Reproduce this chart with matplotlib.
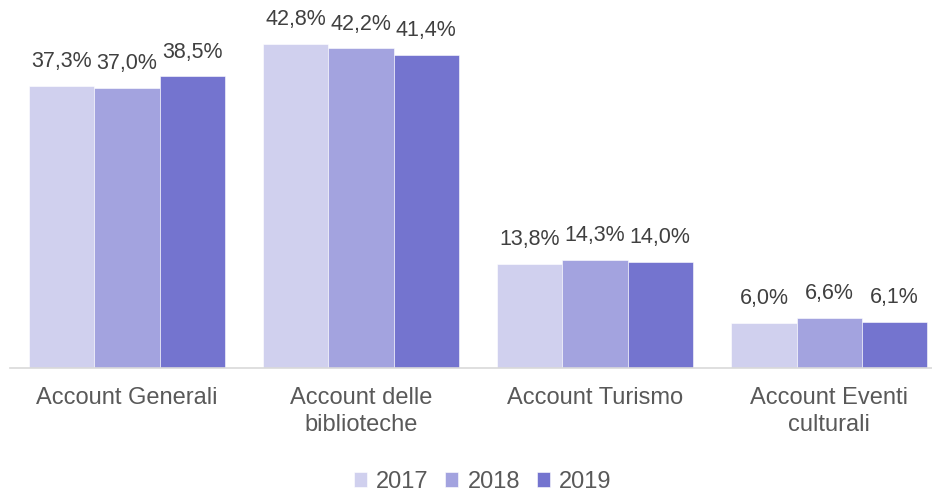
import numpy as np
import matplotlib
matplotlib.use('Agg')
import matplotlib.pyplot as plt

plt.rcParams['font.family'] = ['Liberation Sans', 'DejaVu Sans']

categories = ['Account Generali', 'Account delle\nbiblioteche', 'Account Turismo', 'Account Eventi\nculturali']
years = ['2017', '2018', '2019']
v2017 = [37.3, 42.8, 13.8, 6.0]
v2018 = [37.0, 42.2, 14.3, 6.6]
v2019 = [38.5, 41.4, 14.0, 6.1]
colors = ['#D0D0EE', '#A3A3DF', '#7474CF']

fig = plt.figure(figsize=(9.32, 4.92), dpi=100)
ax = fig.add_axes([10/932, (492-368)/492, 922/932, 368/492])

x = np.arange(len(categories))
w = 0.278
txt = '#404040'
txt2 = '#595959'
for i, (vals, lab) in enumerate(zip([v2017, v2018, v2019], years)):
    pos = x + (i - 1) * w
    ax.bar(pos, vals, width=w, color=colors[i], label=lab, edgecolor='white', linewidth=0.4)
    for px_, v in zip(pos, vals):
        ax.annotate('{:.1f}%'.format(v).replace('.', ','), (px_, v), xytext=(0, 10),
                    textcoords='offset points', ha='center', va='bottom',
                    fontsize=15.5, color=txt)

ax.set_xlim(-0.5, 3.44)
ax.set_ylim(0, 48.6)
ax.set_xticks(x)
ax.set_xticklabels(categories, fontsize=17, color=txt2, linespacing=1.25)
ax.tick_params(axis='x', length=0, pad=14)
ax.set_yticks([])
for s in ['top', 'right', 'left']:
    ax.spines[s].set_visible(False)
ax.spines['bottom'].set_color('#D9D9D9')
ax.spines['bottom'].set_linewidth(1.2)

fig.legend(loc='lower center', bbox_to_anchor=(0.518, -0.045), ncol=3, frameon=False,
           fontsize=17, handlelength=0.55, handleheight=0.55, handletextpad=0.4,
           columnspacing=0.7, labelcolor=txt2)

plt.savefig('out.png', dpi=100)
